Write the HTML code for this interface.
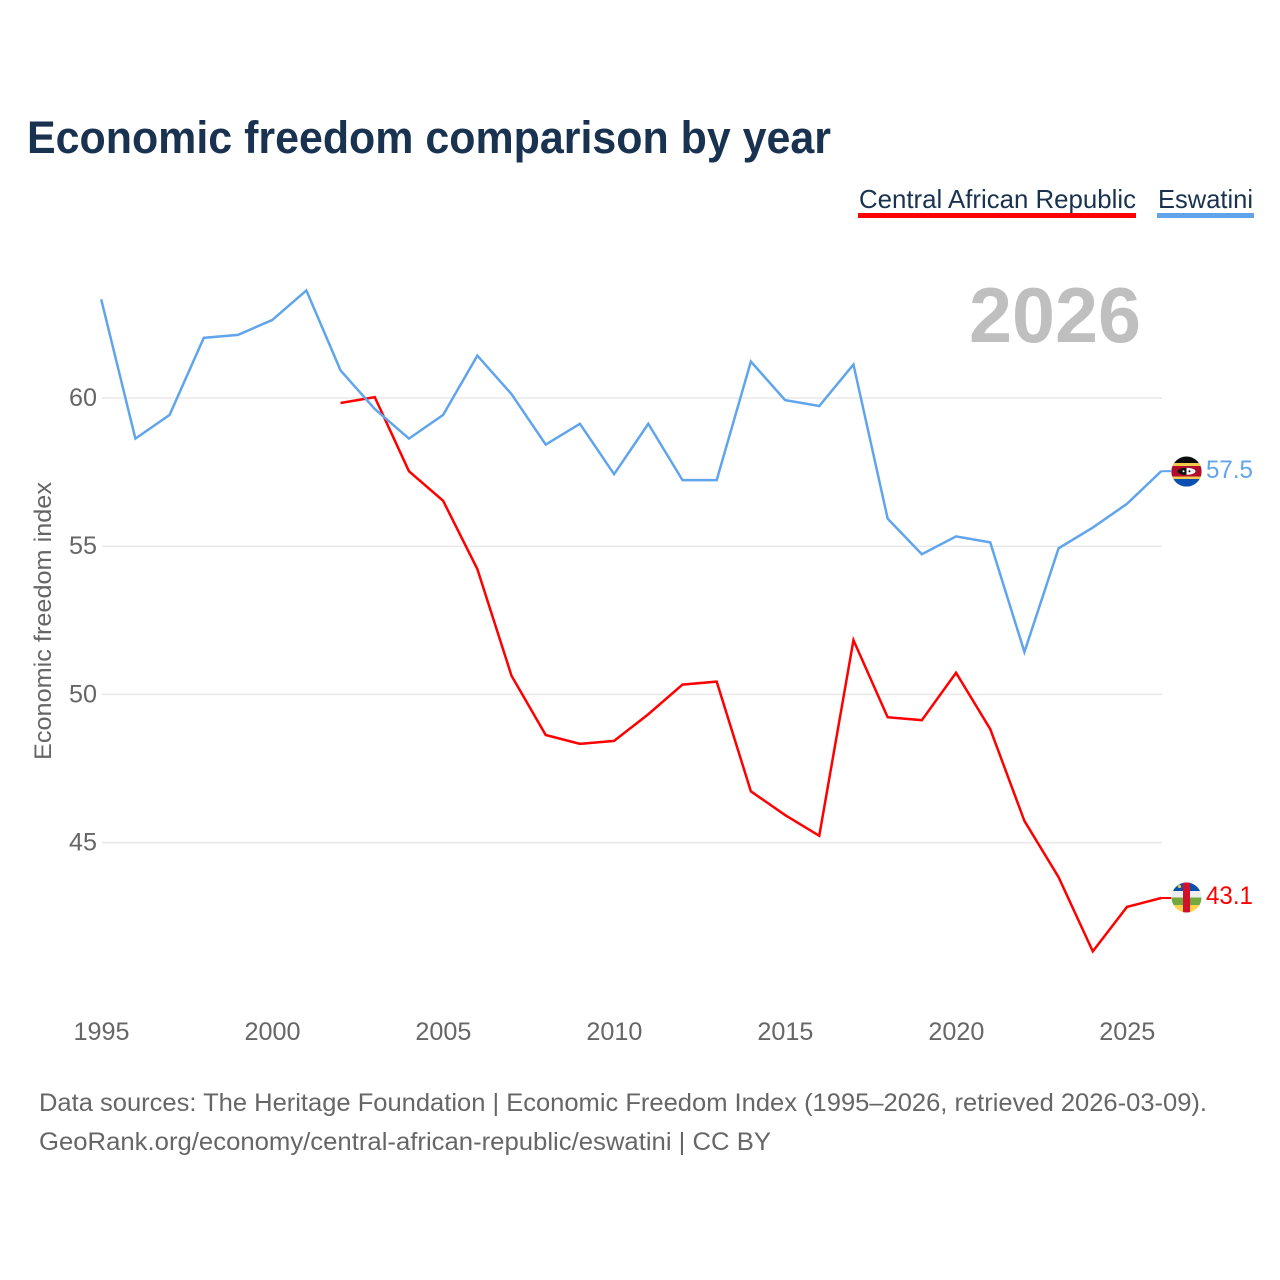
<!DOCTYPE html>
<html lang="en">
<head>
<meta charset="utf-8">
<title>Economic freedom comparison by year</title>
<style>
html,body{margin:0;padding:0;background:#fff;}
svg{display:block;}
text{font-family:"Liberation Sans",sans-serif;}
</style>
</head>
<body>
<svg id="chart" xmlns="http://www.w3.org/2000/svg" width="1280" height="1280" viewBox="0 0 1280 1280">
  <defs>
    <clipPath id="clip-sz"><circle cx="1186.5" cy="471.5" r="15"/></clipPath>
    <clipPath id="clip-cf"><circle cx="1186.5" cy="897.5" r="15"/></clipPath>
  </defs>
  <rect width="1280" height="1280" fill="#fff"/>
  <text x="27" y="153" font-size="45" font-weight="700" fill="#18324f" textLength="804" lengthAdjust="spacingAndGlyphs">Economic freedom comparison by year</text>

  <g>
    <text x="859" y="208" font-size="26" fill="#18324f" textLength="277" lengthAdjust="spacingAndGlyphs">Central African Republic</text>
    <rect x="858" y="213" width="278" height="5" fill="#ff0000"/>
  </g>
  <g>
    <text x="1158" y="208" font-size="26" fill="#18324f" textLength="95" lengthAdjust="spacingAndGlyphs">Eswatini</text>
    <rect x="1157" y="213" width="97" height="5" fill="#60a5ec"/>
  </g>

  <text x="969" y="342" font-size="78" font-weight="700" fill="#bfbfbf" textLength="172" lengthAdjust="spacingAndGlyphs">2026</text>
  <text transform="translate(51,760) rotate(-90)" font-size="24" fill="#666" textLength="278" lengthAdjust="spacingAndGlyphs">Economic freedom index</text>

  <g id="grid"></g>
  <g id="yticks"></g>
  <g id="xticks"></g>
  <g id="series" transform="translate(-0.8,-0.9)"></g>

  <g clip-path="url(#clip-sz)">
    <rect x="1171" y="456" width="32" height="32" fill="#0a0a0a"/>
    <rect x="1171" y="463" width="32" height="3" fill="#f2c94c"/>
    <rect x="1171" y="466" width="32" height="10.5" fill="#b10c2e"/>
    <rect x="1171" y="476.5" width="32" height="2.5" fill="#f2c94c"/>
    <rect x="1171" y="479" width="32" height="9" fill="#0a50b4"/>
    <ellipse cx="1186.5" cy="471.3" rx="9" ry="3.6" fill="#111"/>
    <path d="M1186.5 467.7a9 3.6 0 0 1 0 7.2z" fill="#f5f5f5"/>
    <circle cx="1183.5" cy="471.3" r="1" fill="#fff"/>
    <circle cx="1189.5" cy="471.3" r="1" fill="#111"/>
  </g>
  <g clip-path="url(#clip-cf)">
    <rect x="1171" y="882" width="32" height="9" fill="#0a50a8"/>
    <rect x="1171" y="891" width="32" height="6.5" fill="#eeeeee"/>
    <rect x="1171" y="897.5" width="32" height="7.5" fill="#74a83c"/>
    <rect x="1171" y="905" width="32" height="9" fill="#fbd44c"/>
    <rect x="1183" y="882" width="7" height="32" fill="#d2102e"/>
    <circle cx="1179.5" cy="886.5" r="1.6" fill="#f2c94c"/>
  </g>

  <text x="1206" y="478" font-size="25" fill="#60a5ec" textLength="47" lengthAdjust="spacingAndGlyphs">57.5</text>
  <text x="1206" y="904" font-size="25" fill="#ff0000" textLength="47" lengthAdjust="spacingAndGlyphs">43.1</text>

  <text x="39" y="1111" font-size="25" fill="#666" textLength="1168" lengthAdjust="spacingAndGlyphs">Data sources: The Heritage Foundation | Economic Freedom Index (1995–2026, retrieved 2026-03-09).</text>
  <text x="39" y="1150" font-size="25" fill="#666" textLength="732" lengthAdjust="spacingAndGlyphs">GeoRank.org/economy/central-african-republic/eswatini | CC BY</text>
</svg>
<script>
const years = [1995,1996,1997,1998,1999,2000,2001,2002,2003,2004,2005,2006,2007,2008,2009,2010,2011,2012,2013,2014,2015,2016,2017,2018,2019,2020,2021,2022,2023,2024,2025,2026];
const eswatiniValues = [63.3,58.6,59.4,62.0,62.1,62.6,63.6,60.9,59.6,58.6,59.4,61.4,60.1,58.4,59.1,57.4,59.1,57.2,57.2,61.2,59.9,59.7,61.1,55.9,54.7,55.3,55.1,51.4,54.9,55.6,56.4,57.5];
const carValues = [null,null,null,null,null,null,null,59.8,60.0,57.5,56.5,54.2,50.6,48.6,48.3,48.4,49.3,50.3,50.4,46.7,45.9,45.2,51.8,49.2,49.1,50.7,48.8,45.7,43.8,41.3,42.8,43.1];
const yTickValues = [45,50,55,60];
const xTickValues = [1995,2000,2005,2010,2015,2020,2025];

const NS = 'http://www.w3.org/2000/svg';
function xScale(year) { return 102 + (year - 1995) * (1162 - 102) / 31; }
function yScale(value) { return 398 + (60 - value) * 29.64; }

function make(parent, tag, attrs, text) {
  const el = document.createElementNS(NS, tag);
  for (const k in attrs) el.setAttribute(k, attrs[k]);
  if (text !== undefined) el.textContent = text;
  parent.appendChild(el);
  return el;
}

const grid = document.getElementById('grid');
const yticks = document.getElementById('yticks');
const xticks = document.getElementById('xticks');
const series = document.getElementById('series');

yTickValues.forEach(function (v) {
  const line = make(grid, 'line', {x1: 102, x2: 1162, y1: yScale(v), y2: yScale(v), stroke: '#e9e9e9', 'stroke-width': 1.5});
  
  
  const label = make(yticks, 'text', {x: 69, y: yScale(v) + 8, 'font-size': 25, fill: '#666', textLength: 28, lengthAdjust: 'spacingAndGlyphs'}, String(v));
  
  
});

xTickValues.forEach(function (y) {
  const label = make(xticks, 'text', {x: xScale(y) - 28.5, y: 1040, 'font-size': 25, fill: '#666', textLength: 56, lengthAdjust: 'spacingAndGlyphs'}, String(y));
  
  
});

function drawSeries(values, color, name) {
  const pts = [];
  values.forEach(function (v, i) {
    if (v !== null) pts.push(xScale(years[i]).toFixed(2) + ',' + yScale(v).toFixed(2));
  });
  const last = values[values.length - 1];
  const line = make(series, 'polyline', {points: pts.join(' '), fill: 'none', stroke: color, 'stroke-width': 2.5, 'stroke-linejoin': 'miter'});
  
  
  const connector = make(series, 'line', {x1: xScale(2026), x2: 1172, y1: yScale(last), y2: yScale(last), stroke: color, 'stroke-width': 2});
  
  
}

drawSeries(carValues, '#ff0000', 'central-african-republic');
drawSeries(eswatiniValues, '#60a5ec', 'eswatini');
</script>
</body>
</html>
